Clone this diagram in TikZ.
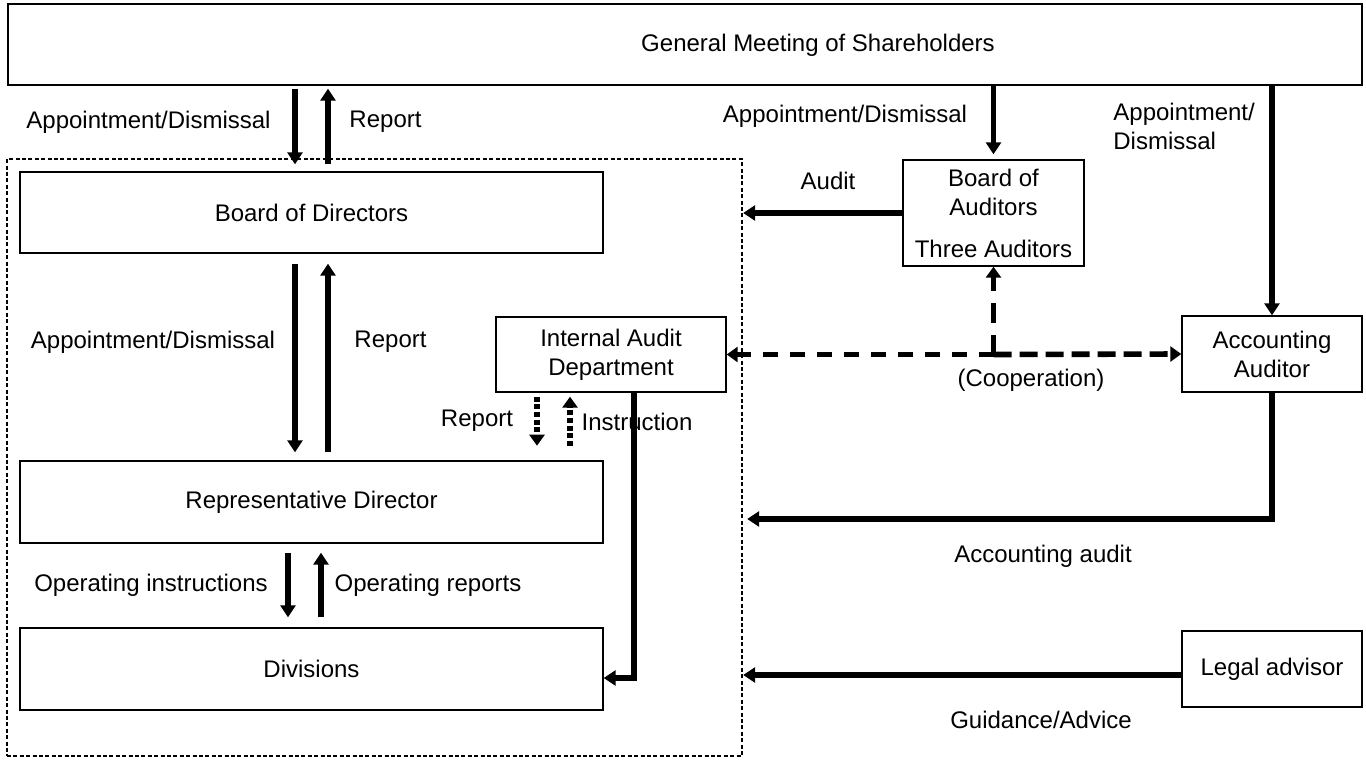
\documentclass[tikz,border=0pt]{standalone}
\usepackage{fontspec}
\setmainfont{Liberation Sans}
\usetikzlibrary{positioning, calc, arrows.meta}

\begin{document}
\begin{tikzpicture}[x=0.5pt, y=-0.5pt,
    font=\fontsize{12pt}{14.5pt}\selectfont,
    box/.style={draw, line width=0.7pt, inner sep=0pt, align=center},
    lbl/.style={inner sep=0pt, align=center},
    arr/.style={line width=2.6pt, -{Triangle[width=7.5pt, length=6pt]}},
    dotarr/.style={line width=2.8pt, dash pattern=on 2.5pt off 1.3pt, -{Triangle[width=7.5pt, length=5.5pt]}},
    coop/.style={line width=2.8pt, -{Triangle[width=7.5pt, length=5.5pt]}}]
    \useasboundingbox (0,0) rectangle (1366,760);

    % boxes
    \node[draw, line width=1.2pt, dash pattern=on 2pt off 1.2pt, inner sep=0pt,
          minimum width=367.5pt, minimum height=298.5pt] (CO) at (374.5,457.5) {};
    \node[box, minimum width=677pt, minimum height=40.5pt] (GM) at (685,44.5) {};
    \node[lbl] (GMtext) at (818,45) {General Meeting of Shareholders};
    \node[box, minimum width=291.5pt, minimum height=40.5pt] (BD) at (311.5,212.5) {Board of Directors};
    \node[box, minimum width=291.5pt, minimum height=41pt] (RD) at (311.5,502) {Representative Director};
    \node[box, minimum width=291.5pt, minimum height=41pt] (DV) at (311.5,669) {Divisions};
    \node[box, minimum width=115pt, minimum height=37.5pt] (IA) at (611,354.5) {Internal Audit\\Department};
    \node[box, minimum width=90.5pt, minimum height=53pt] (BA) at (993.5,213) {Board of\\Auditors\\[6.5pt]Three Auditors};
    \node[box, minimum width=90pt, minimum height=38pt] (AA) at (1272,354) {Accounting\\Auditor};
    \node[box, minimum width=90pt, minimum height=38pt] (LA) at (1272,669) {Legal advisor};

    % shareholders and board of directors
    \draw[arr, shorten <=1.5pt, shorten >=3.5pt] ([xshift=-8.25pt]BD.north |- GM.south) -- ([xshift=-8.25pt]BD.north);
    \draw[arr, shorten <=3.5pt, shorten >=1.5pt] ([xshift=8.25pt]BD.north) -- ([xshift=8.25pt]BD.north |- GM.south);
    \draw[arr, shorten <=5pt, shorten >=4pt] ([xshift=-8.25pt]BD.south) -- ([xshift=-8.25pt]BD.south |- RD.north);
    \draw[arr, shorten <=4pt, shorten >=5pt] ([xshift=8.25pt]BD.south |- RD.north) -- ([xshift=8.25pt]BD.south);
    \draw[arr, shorten <=4.5pt, shorten >=5pt] ([xshift=-11.75pt]RD.south) -- ([xshift=-11.75pt]RD.south |- DV.north);
    \draw[arr, shorten <=5pt, shorten >=4.5pt] ([xshift=4.75pt]RD.south |- DV.north) -- ([xshift=4.75pt]RD.south);

    % internal audit
    \coordinate (RPt) at ([xshift=-37pt, yshift=-26.5pt]IA.south);
    \coordinate (INt) at ([xshift=-20.5pt, yshift=-26.5pt]IA.south);
    \draw[dotarr, shorten <=2pt] ([xshift=-37pt]IA.south) -- (RPt);
    \draw[dotarr, shorten >=2pt] (INt) -- ([xshift=-20.5pt]IA.south);
    \draw[arr] ([xshift=11.5pt]IA.south) |- ([yshift=-4.5pt]DV.east);

    % auditors
    \draw[arr, shorten >=2.5pt] (BA.north |- GM.south) -- (BA.north);
    \draw[arr] (BA.west) -- (BA.west -| CO.east);
    \draw[arr] (AA.north |- GM.south) -- (AA.north);
    \coordinate (J) at (BA.south |- IA.east);
    \draw[coop, dash pattern=on 7.5pt off 6pt] (J) -- (IA.east);
    \draw[coop, dash pattern=on 9pt off 4pt] (J) -- (AA.west);
    \draw[coop, dash pattern=on 10pt off 6pt] (J) -- (BA.south);
    \draw[arr, shorten >=2pt] (AA.south) |- ([yshift=-8.5pt]RD.east -| CO.east);
    \draw[arr] ([yshift=-3pt]LA.west) -- ([yshift=-3pt]LA.west -| CO.east);

    % labels
    \node[lbl] (ApD1) at (148.5,122) {Appointment/Dismissal};
    \node[lbl] (Rp1) at (385.5,122) {Report};
    \node[lbl] (ApD2) at (153,342) {Appointment/Dismissal};
    \node[lbl] (Rp2) at (390.5,342) {Report};
    \node[lbl] (OpI) at (151,585) {Operating instructions};
    \node[lbl] (OpR) at (428,585) {Operating reports};
    \node[lbl] (Rp3) at (477,421) {Report};
    \node[lbl] (Ins) at (637,422) {Instruction};
    \node[lbl] (ApD3) at (845,116) {Appointment/Dismissal};
    \node[lbl, align=left, anchor=west] (ApD4) at (1113,126) {Appointment/\\Dismissal};
    \node[lbl] (Au) at (828,181) {Audit};
    \node[lbl] (Coop) at (1031,380) {(Cooperation)};
    \node[lbl] (AcA) at (1043,556) {Accounting audit};
    \node[lbl] (GdA) at (1041,720) {Guidance/Advice};
\end{tikzpicture}
\end{document}
